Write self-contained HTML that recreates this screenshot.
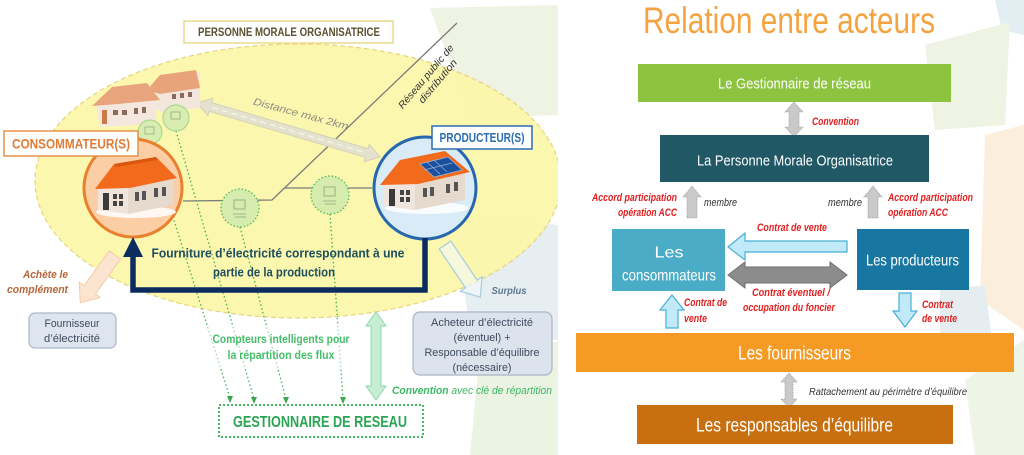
<!DOCTYPE html>
<html><head><meta charset="utf-8">
<style>
html,body{margin:0;padding:0;background:#fff;}
svg{display:block;}
text{font-family:"Liberation Sans",sans-serif;}
</style></head>
<body>
<svg width="1024" height="455" viewBox="0 0 1024 455" xmlns="http://www.w3.org/2000/svg">
<rect x="0" y="0" width="1024" height="455" fill="#fff"/>
<defs>
<clipPath id="lp"><rect x="0" y="0" width="558" height="455"/></clipPath>
</defs>

<!-- ===== LEFT PANEL background shapes ===== -->
<g clip-path="url(#lp)">
<polygon points="430,8 558,5 558,115 470,118" fill="#eef3e4"/>
<polygon points="455,215 558,225 558,340 470,335" fill="#e7eef2"/>
<polygon points="480,350 558,342 558,455 470,455" fill="#ebf3e3"/>
<ellipse cx="298" cy="181" rx="263" ry="137" fill="#fbf6a9" fill-opacity="0.93" stroke="#e6d57c" stroke-width="1.2" stroke-dasharray="5 3"/>
</g>

<!-- Personne morale box -->
<rect x="184" y="21" width="209" height="22" fill="#fff" stroke="#eadb8a" stroke-width="1.5"/>
<text x="289" y="36" font-size="11.5" font-weight="bold" fill="#5a5230" text-anchor="middle" textLength="182" lengthAdjust="spacingAndGlyphs">PERSONNE MORALE ORGANISATRICE</text>

<!-- Reseau lines -->
<polyline points="457,23 272,200 183,201" fill="none" stroke="#7a7a7a" stroke-width="1.3"/>
<line x1="285" y1="188" x2="372" y2="188" stroke="#7a7a7a" stroke-width="1.3"/>
<g transform="translate(430,80) rotate(-50)">
<text x="0" y="-2" font-size="10" font-style="italic" fill="#333" text-anchor="middle" textLength="80" lengthAdjust="spacingAndGlyphs">Réseau public de</text>
<text x="4" y="10" font-size="10" font-style="italic" fill="#333" text-anchor="middle" textLength="54" lengthAdjust="spacingAndGlyphs">distribution</text>
</g>

<!-- Distance arrow -->
<g transform="translate(197,103) rotate(16.4)">
<polygon points="0,0 14,-9 14,-4.5 177,-4.5 177,-9 191,0 177,9 177,4.5 14,4.5 14,9" fill="#e4e2cc" stroke="#d3d1bb" stroke-width="1"/>
<line x1="16" y1="0" x2="175" y2="0" stroke="#fff" stroke-width="1.2" stroke-dasharray="6 4" opacity="0.7"/>
</g>
<text transform="translate(300,117) rotate(15)" font-size="10" font-style="italic" fill="#8a8a80" text-anchor="middle" textLength="98" lengthAdjust="spacingAndGlyphs">Distance max 2km</text>

<!-- small houses -->
<g>
<!-- house B (back) -->
<polygon points="140,95 160,78 200,72 200,108 160,112" fill="#f3e6dc"/>
<polygon points="147,90 160,75 196,70 200,88 160,94" fill="#e9a37a"/>
<rect x="172" y="94" width="4" height="5" fill="#8a6a5a"/><rect x="180" y="93" width="4" height="5" fill="#8a6a5a"/><rect x="188" y="92" width="4" height="5" fill="#8a6a5a"/>
<!-- house A (front) -->
<polygon points="96,105 112,90 150,86 156,102 156,124 100,127" fill="#f4e8de"/>
<polygon points="92,106 112,87 147,83 160,100 118,104" fill="#e8a57d"/>
<rect x="102" y="110" width="5" height="14" fill="#c87a4a"/>
<rect x="113" y="110" width="5" height="5" fill="#8a6a5a"/><rect x="122" y="110" width="5" height="5" fill="#8a6a5a"/>
<rect x="134" y="108" width="4" height="6" fill="#8a6a5a"/><rect x="142" y="107" width="4" height="6" fill="#8a6a5a"/>
</g>

<!-- dotted green meter lines -->
<g stroke="#46b058" stroke-width="1.3" stroke-dasharray="1.5 2.5" fill="none">
<line x1="150" y1="144" x2="230" y2="398"/>
<line x1="176" y1="131" x2="254" y2="399"/>
<line x1="240" y1="227" x2="286" y2="399"/>
<line x1="330" y1="214" x2="343" y2="399"/>
</g>
<g fill="#3aa84e">
<polygon points="227,396 233,396 230,403"/>
<polygon points="251,397 257,397 254,404"/>
<polygon points="283,397 289,397 286,404"/>
<polygon points="340,397 346,397 343,404"/>
</g>

<!-- small meter circles -->
<circle cx="150" cy="132" r="12" fill="#d9edb2" stroke="#a9d98f" stroke-width="1.2"/>
<circle cx="176" cy="118" r="13" fill="#d9edb2" stroke="#a9d98f" stroke-width="1.2"/>
<rect x="145" y="127" width="9" height="7" fill="none" stroke="#9bb88a" stroke-width="1"/>
<rect x="171" y="112" width="9" height="7" fill="none" stroke="#9bb88a" stroke-width="1"/>
<circle cx="240" cy="208" r="19" fill="#d5ecae" stroke="#5cbb5c" stroke-width="1.4" stroke-dasharray="1.5 2"/>
<circle cx="330" cy="195" r="19" fill="#d5ecae" stroke="#5cbb5c" stroke-width="1.4" stroke-dasharray="1.5 2"/>
<rect x="234" y="200" width="11" height="9" fill="none" stroke="#9bb88a" stroke-width="1.1"/>
<path d="M233,214 h13 M235,217 h11" stroke="#9bb88a" stroke-width="1"/>
<rect x="324" y="187" width="11" height="9" fill="none" stroke="#9bb88a" stroke-width="1.1"/>
<path d="M323,201 h13 M325,204 h11" stroke="#9bb88a" stroke-width="1"/>

<!-- consumer circle -->
<circle cx="133" cy="188" r="49" fill="#fbcea6" stroke="#e8802e" stroke-width="3"/>
<ellipse cx="136" cy="212" rx="40" ry="6" fill="#fff" opacity="0.85"/>
<polygon points="128,186 173,178 173,205 128,214" fill="#e6d9ce"/>
<polygon points="98,187 114,169 128,186 128,214 98,210" fill="#efe5dc"/>
<polygon points="95,189 114,164 156,157 177,178 130,188" fill="#f26a1c"/>
<polygon points="114,164 156,157 158,160 116,167" fill="#d9560f"/>
<rect x="103" y="193" width="6" height="17" fill="#3a3a3a"/>
<rect x="113" y="194" width="4" height="5" fill="#444"/><rect x="119" y="194" width="4" height="5" fill="#444"/>
<rect x="113" y="201" width="4" height="5" fill="#444"/><rect x="119" y="201" width="4" height="5" fill="#444"/>
<rect x="135" y="192" width="4" height="9" fill="#555"/><rect x="142" y="191" width="4" height="9" fill="#555"/>
<rect x="154" y="188" width="4" height="9" fill="#555"/><rect x="162" y="187" width="4" height="9" fill="#555"/>

<!-- consumer label -->
<rect x="4" y="131" width="134" height="25" fill="#fff" stroke="#e8914a" stroke-width="1.5"/>
<text x="71" y="148.5" font-size="13.5" font-weight="bold" fill="#e07b35" text-anchor="middle" textLength="118" lengthAdjust="spacingAndGlyphs">CONSOMMATEUR(S)</text>

<!-- producer circle -->
<circle cx="425" cy="188" r="51" fill="#d8ebf6" stroke="#2767ad" stroke-width="3"/>
<ellipse cx="427" cy="208" rx="42" ry="6" fill="#fff" opacity="0.85"/>
<polygon points="415,183 465,173 465,200 415,210" fill="#e6d9ce"/>
<polygon points="384,183 400,166 415,183 415,210 384,206" fill="#efe5dc"/>
<polygon points="380,185 400,160 445,151 470,172 418,184" fill="#f26a1c"/>
<polygon points="420,164 448,157 462,170 434,177" fill="#1d4f9c" stroke="#8fb3e0" stroke-width="0.8"/>
<path d="M427,162 l13,12 M434,160 l13,12 M424,170 l28,-7" stroke="#8fb3e0" stroke-width="0.7"/>
<rect x="389" y="189" width="6" height="17" fill="#3a3a3a"/>
<rect x="400" y="190" width="4" height="5" fill="#444"/><rect x="406" y="190" width="4" height="5" fill="#444"/>
<rect x="400" y="197" width="4" height="5" fill="#444"/><rect x="406" y="197" width="4" height="5" fill="#444"/>
<rect x="423" y="188" width="4" height="9" fill="#555"/><rect x="430" y="187" width="4" height="9" fill="#555"/>
<rect x="446" y="184" width="4" height="9" fill="#555"/><rect x="454" y="182" width="4" height="9" fill="#555"/>

<!-- producer label -->
<rect x="432" y="126" width="100" height="23" fill="#fff" stroke="#2a6db0" stroke-width="1.5"/>
<text x="482" y="142" font-size="12.5" font-weight="bold" fill="#2a6db0" text-anchor="middle" textLength="85" lengthAdjust="spacingAndGlyphs">PRODUCTEUR(S)</text>

<!-- navy arrow -->
<path d="M425,238 V290 H133 V254" fill="none" stroke="#0c2b5e" stroke-width="5.5"/>
<polygon points="123,257 133,237 143,257" fill="#0c2b5e"/>
<text x="278" y="257.5" font-size="13" font-weight="bold" fill="#1d4f5e" text-anchor="middle" textLength="253" lengthAdjust="spacingAndGlyphs">Fourniture d’électricité correspondant à une</text>
<text x="274" y="276.5" font-size="13" font-weight="bold" fill="#1d4f5e" text-anchor="middle" textLength="122" lengthAdjust="spacingAndGlyphs">partie de la production</text>

<!-- achète le complément -->
<g transform="translate(115,255) rotate(126)">
<polygon points="0,-7 43,-7 43,-13 59,0 43,13 43,7 0,7" fill="#fce5d0" stroke="#f5cba6" stroke-width="1"/>
</g>
<text x="68" y="278" font-size="11" font-weight="bold" font-style="italic" fill="#b5663a" text-anchor="end" textLength="45" lengthAdjust="spacingAndGlyphs">Achète le</text>
<text x="68" y="293" font-size="11" font-weight="bold" font-style="italic" fill="#b5663a" text-anchor="end" textLength="61" lengthAdjust="spacingAndGlyphs">complément</text>

<!-- fournisseur box -->
<rect x="29" y="313" width="87" height="35" rx="6" fill="#dfe5ee" stroke="#aab6c8" stroke-width="1.2"/>
<text x="72" y="327" font-size="11" fill="#3d4a5e" text-anchor="middle" textLength="55" lengthAdjust="spacingAndGlyphs">Fournisseur</text>
<text x="72" y="342" font-size="11" fill="#3d4a5e" text-anchor="middle" textLength="56" lengthAdjust="spacingAndGlyphs">d’électricité</text>

<!-- surplus -->
<g transform="translate(445,245) rotate(56)">
<polygon points="0,-7 47,-7 47,-13 63,0 47,13 47,7 0,7" fill="#f3f8fb" fill-opacity="0.6" stroke="#a5cde0" stroke-width="1.2"/>
</g>
<text x="509" y="294" font-size="10.5" font-weight="bold" font-style="italic" fill="#5c7590" text-anchor="middle" textLength="35" lengthAdjust="spacingAndGlyphs">Surplus</text>

<!-- acheteur box -->
<rect x="413" y="312" width="139" height="63" rx="7" fill="#dde3ec" stroke="#aab5c5" stroke-width="1.2"/>
<g font-size="11" fill="#3d4a5e" text-anchor="middle">
<text x="482" y="326" textLength="102" lengthAdjust="spacingAndGlyphs">Acheteur d’électricité</text>
<text x="482" y="341" textLength="57" lengthAdjust="spacingAndGlyphs">(éventuel) +</text>
<text x="482" y="356" textLength="115" lengthAdjust="spacingAndGlyphs">Responsable d’équilibre</text>
<text x="482" y="371" textLength="59" lengthAdjust="spacingAndGlyphs">(nécessaire)</text>
</g>

<!-- compteurs -->
<rect x="203" y="325" width="160" height="43" fill="#fff" opacity="0.5"/>
<text x="281" y="343" font-size="11.5" font-weight="bold" fill="#45bf6a" text-anchor="middle" textLength="137" lengthAdjust="spacingAndGlyphs">Compteurs intelligents pour</text>
<text x="281" y="359" font-size="11.5" font-weight="bold" fill="#45bf6a" text-anchor="middle" textLength="107" lengthAdjust="spacingAndGlyphs">la répartition des flux</text>

<!-- green double arrow -->
<polygon points="376,312 386,326 381,326 381,386 386,386 376,400 366,386 371,386 371,326 366,326" fill="#c6eed2" stroke="#8fd9a6" stroke-width="1"/>
<text x="392" y="394" font-size="11" font-style="italic" fill="#3cb864" textLength="160" lengthAdjust="spacingAndGlyphs"><tspan font-weight="bold">Convention</tspan> avec clé de répartition</text>

<!-- gestionnaire box -->
<rect x="219" y="405" width="204" height="32" fill="#fff" stroke="#45b860" stroke-width="2" stroke-dasharray="2 2"/>
<text x="320" y="427" font-size="16" font-weight="bold" fill="#2aa653" text-anchor="middle" textLength="174" lengthAdjust="spacingAndGlyphs">GESTIONNAIRE DE RESEAU</text>

<!-- ===== RIGHT PANEL ===== -->
<polygon points="995,0 1024,0 1024,35 1002,30" fill="#e3eef3"/>
<polygon points="925,45 1010,22 1005,125 935,130" fill="#eef3e3"/>
<polygon points="985,135 1024,125 1024,330 980,300" fill="#fbeedd"/>
<polygon points="940,290 985,285 992,340 940,340" fill="#e6edf0"/>
<polygon points="965,380 1024,340 1024,455 975,455" fill="#eef4e6"/>

<text x="789" y="33" font-size="37" fill="#f4a340" text-anchor="middle" textLength="292" lengthAdjust="spacingAndGlyphs">Relation entre acteurs</text>

<!-- gestionnaire -->
<rect x="638" y="64" width="313" height="38" fill="#8cc43f"/>
<text x="794.5" y="88.5" font-size="15" fill="#fff" text-anchor="middle" textLength="153" lengthAdjust="spacingAndGlyphs">Le Gestionnaire de réseau</text>

<!-- convention arrow -->
<polygon points="794,102 803,112 799,112 799,127 803,127 794,137 785,127 789,127 789,112 785,112" fill="#c9c9c9" stroke="#999" stroke-width="0.8" stroke-dasharray="1 1"/>
<text x="812" y="125" font-size="11" font-weight="bold" font-style="italic" fill="#e02020" textLength="47" lengthAdjust="spacingAndGlyphs">Convention</text>

<!-- PMO -->
<rect x="660" y="135" width="269" height="47" fill="#215866"/>
<text x="795" y="165.5" font-size="15" fill="#fff" text-anchor="middle" textLength="196" lengthAdjust="spacingAndGlyphs">La Personne Morale Organisatrice</text>

<!-- membre arrows -->
<polygon points="692,186 701,197 697,197 697,218 687,218 687,197 683,197" fill="#c9c9c9" stroke="#999" stroke-width="0.8" stroke-dasharray="1 1"/>
<polygon points="873,186 882,197 878,197 878,218 868,218 868,197 864,197" fill="#c9c9c9" stroke="#999" stroke-width="0.8" stroke-dasharray="1 1"/>
<g font-size="11" font-weight="bold" font-style="italic" fill="#e02020">
<text x="677" y="201" text-anchor="end" textLength="85" lengthAdjust="spacingAndGlyphs">Accord participation</text>
<text x="677" y="216" text-anchor="end" textLength="59" lengthAdjust="spacingAndGlyphs">opération ACC</text>
<text x="888" y="201" textLength="85" lengthAdjust="spacingAndGlyphs">Accord participation</text>
<text x="888" y="216" textLength="60" lengthAdjust="spacingAndGlyphs">opération ACC</text>
</g>
<text x="704" y="206" font-size="11" font-style="italic" fill="#333" textLength="33" lengthAdjust="spacingAndGlyphs">membre</text>
<text x="828" y="206" font-size="11" font-style="italic" fill="#333" textLength="34" lengthAdjust="spacingAndGlyphs">membre</text>

<!-- consommateurs / producteurs -->
<rect x="612" y="229" width="113" height="62" fill="#4aacc6"/>
<text x="669" y="257.5" font-size="16" fill="#fff" text-anchor="middle" textLength="29" lengthAdjust="spacingAndGlyphs">Les</text>
<text x="669" y="280.5" font-size="16" fill="#fff" text-anchor="middle" textLength="94" lengthAdjust="spacingAndGlyphs">consommateurs</text>
<rect x="857" y="229" width="112" height="61" fill="#1877a0"/>
<text x="912.5" y="265.5" font-size="16" fill="#fff" text-anchor="middle" textLength="93" lengthAdjust="spacingAndGlyphs">Les producteurs</text>

<text x="792" y="231" font-size="11" font-weight="bold" font-style="italic" fill="#e02020" text-anchor="middle" textLength="70" lengthAdjust="spacingAndGlyphs">Contrat de vente</text>
<polygon points="728,247 745,233 745,241 847,241 847,252 745,252 745,260" fill="#c2e9f7" stroke="#46b0d6" stroke-width="1.2"/>
<polygon points="728,275 745,262 745,267 830,267 830,262 847,275 830,288 830,283 745,283 745,288" fill="#8c8c8c" stroke="#6e6e6e" stroke-width="1"/>
<text x="791" y="296" font-size="11" font-weight="bold" font-style="italic" fill="#e02020" text-anchor="middle" textLength="78" lengthAdjust="spacingAndGlyphs">Contrat éventuel /</text>
<text x="789" y="311" font-size="11" font-weight="bold" font-style="italic" fill="#e02020" text-anchor="middle" textLength="92" lengthAdjust="spacingAndGlyphs">occupation du foncier</text>

<!-- up/down arrows -->
<polygon points="672,295 684,310 678,310 678,328 666,328 666,310 660,310" fill="#c2e9f7" stroke="#46b0d6" stroke-width="1.2"/>
<text x="684" y="306" font-size="11" font-weight="bold" font-style="italic" fill="#e02020" textLength="43" lengthAdjust="spacingAndGlyphs">Contrat de</text>
<text x="684" y="322" font-size="11" font-weight="bold" font-style="italic" fill="#e02020" textLength="23" lengthAdjust="spacingAndGlyphs">vente</text>
<polygon points="899,293 911,293 911,311 917,311 905,327 893,311 899,311" fill="#c2e9f7" stroke="#46b0d6" stroke-width="1.2"/>
<text x="922" y="308" font-size="11" font-weight="bold" font-style="italic" fill="#e02020" textLength="31" lengthAdjust="spacingAndGlyphs">Contrat</text>
<text x="922" y="322" font-size="11" font-weight="bold" font-style="italic" fill="#e02020" textLength="35" lengthAdjust="spacingAndGlyphs">de vente</text>

<!-- fournisseurs -->
<rect x="576" y="333" width="438" height="39" fill="#f59b25"/>
<text x="794.5" y="359.5" font-size="19" fill="#fff" text-anchor="middle" textLength="113" lengthAdjust="spacingAndGlyphs">Les fournisseurs</text>

<polygon points="789,373 797,382 793,382 793,399 797,399 789,408 781,399 785,399 785,382 781,382" fill="#c9c9c9" stroke="#999" stroke-width="0.8" stroke-dasharray="1 1"/>
<text x="809" y="395" font-size="10.5" font-style="italic" fill="#333" textLength="158" lengthAdjust="spacingAndGlyphs">Rattachement au périmètre d’équilibre</text>

<!-- responsables -->
<rect x="637" y="405" width="316" height="39" fill="#c86f10"/>
<text x="794.5" y="431.5" font-size="19" fill="#fff" text-anchor="middle" textLength="197" lengthAdjust="spacingAndGlyphs">Les responsables d’équilibre</text>
</svg>
</body></html>
